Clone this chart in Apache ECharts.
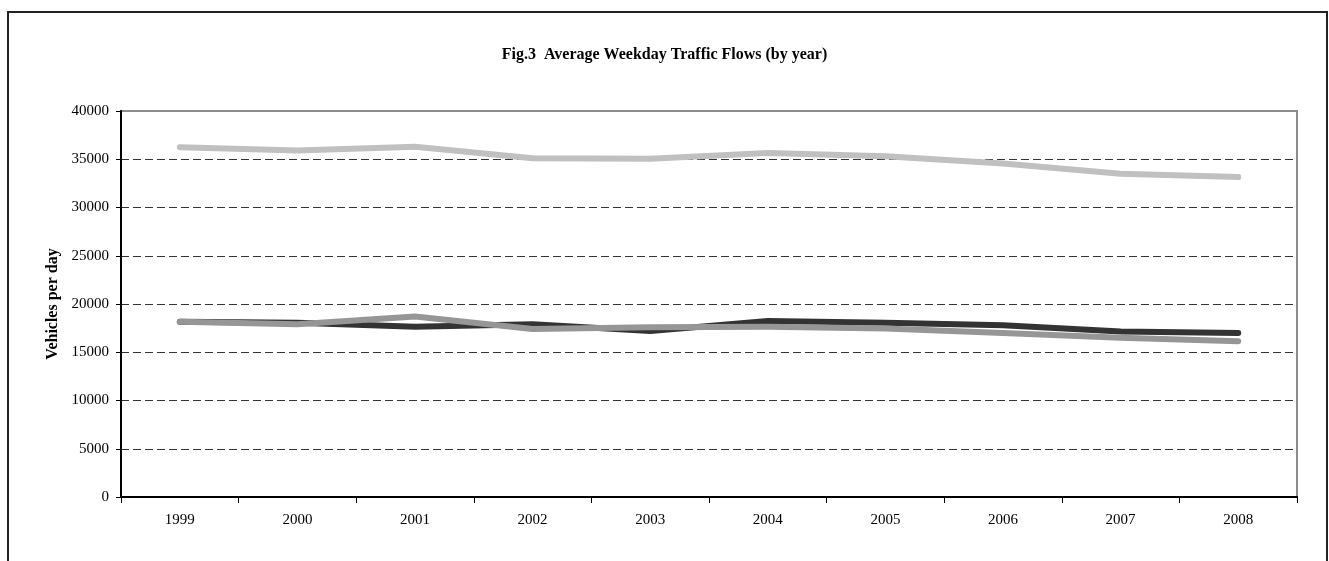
<!DOCTYPE html>
<html>
<head>
<meta charset="utf-8">
<script src="https://cdn.jsdelivr.net/npm/echarts@6/dist/echarts.min.js"></script>
<style>
html,body{margin:0;padding:0;background:#fff;}
#chart{width:1329px;height:561px;}
</style>
</head>
<body>
<div id="chart"></div>
<script>
var years = ['1999','2000','2001','2002','2003','2004','2005','2006','2007','2008'];
var seriesLight = [36250, 35900, 36300, 35100, 35050, 35650, 35300, 34550, 33500, 33150];
var seriesDark  = [18150, 18050, 17650, 17900, 17200, 18250, 18050, 17800, 17150, 17000];
var seriesMid   = [18150, 17900, 18700, 17400, 17600, 17650, 17450, 17000, 16500, 16150];
var titleText = 'Fig.3  Average Weekday Traffic Flows (by year)';
var yAxisName = 'Vehicles per day';

var FONT = "'Liberation Serif', 'Times New Roman', serif";
var chart = echarts.init(document.getElementById('chart'), null, {renderer: 'canvas'});
function lineSeries(name, data, color) {
  return {
    name: name, type: 'line', data: data, symbol: 'none', smooth: false,
    lineStyle: {color: color, width: 6, cap: 'round', join: 'round'},
    itemStyle: {color: color}, z: 3
  };
}
chart.setOption({
  animation: false,
  backgroundColor: '#fff',
  title: {
    text: titleText, left: 'center', top: 42,
    textStyle: {fontFamily: FONT, fontWeight: 'bold', fontSize: 16, color: '#000'}
  },
  graphic: [{
    type: 'rect', z: 100, silent: true,
    shape: {x: 8, y: 12, width: 1319, height: 600},
    style: {fill: 'none', stroke: '#222', lineWidth: 2}
  }],
  grid: {
    left: 121, right: 32, top: 111, bottom: 64,
    show: true, borderColor: '#8c8c8c', borderWidth: 2, backgroundColor: '#fff'
  },
  xAxis: {
    type: 'category', data: years, boundaryGap: true,
    axisLine: {show: true, lineStyle: {color: '#000', width: 2}},
    axisTick: {show: true, alignWithLabel: false, inside: false, length: 6, lineStyle: {color: '#000', width: 1}},
    axisLabel: {fontFamily: FONT, fontSize: 15, color: '#000', margin: 16},
    splitLine: {show: false}
  },
  yAxis: {
    type: 'value', min: 0, max: 40000, interval: 5000,
    name: yAxisName, nameLocation: 'middle', nameGap: 58, nameRotate: 90,
    nameTextStyle: {fontFamily: FONT, fontWeight: 'bold', fontSize: 16, color: '#000'},
    axisLine: {show: true, lineStyle: {color: '#000', width: 2}},
    axisTick: {show: true, inside: false, length: 5, lineStyle: {color: '#000', width: 1}},
    axisLabel: {fontFamily: FONT, fontSize: 15, color: '#000', margin: 12,
      formatter: function (v) { return String(v); }},
    splitLine: {show: true, showMinLine: false, showMaxLine: false,
      lineStyle: {color: '#333', width: 1, type: [8, 4]}}
  },
  series: [
    lineSeries('Series A', seriesDark, '#333333'),
    lineSeries('Series B', seriesMid, '#969696'),
    lineSeries('Series C', seriesLight, '#c0c0c0')
  ]
});
</script>
</body>
</html>
